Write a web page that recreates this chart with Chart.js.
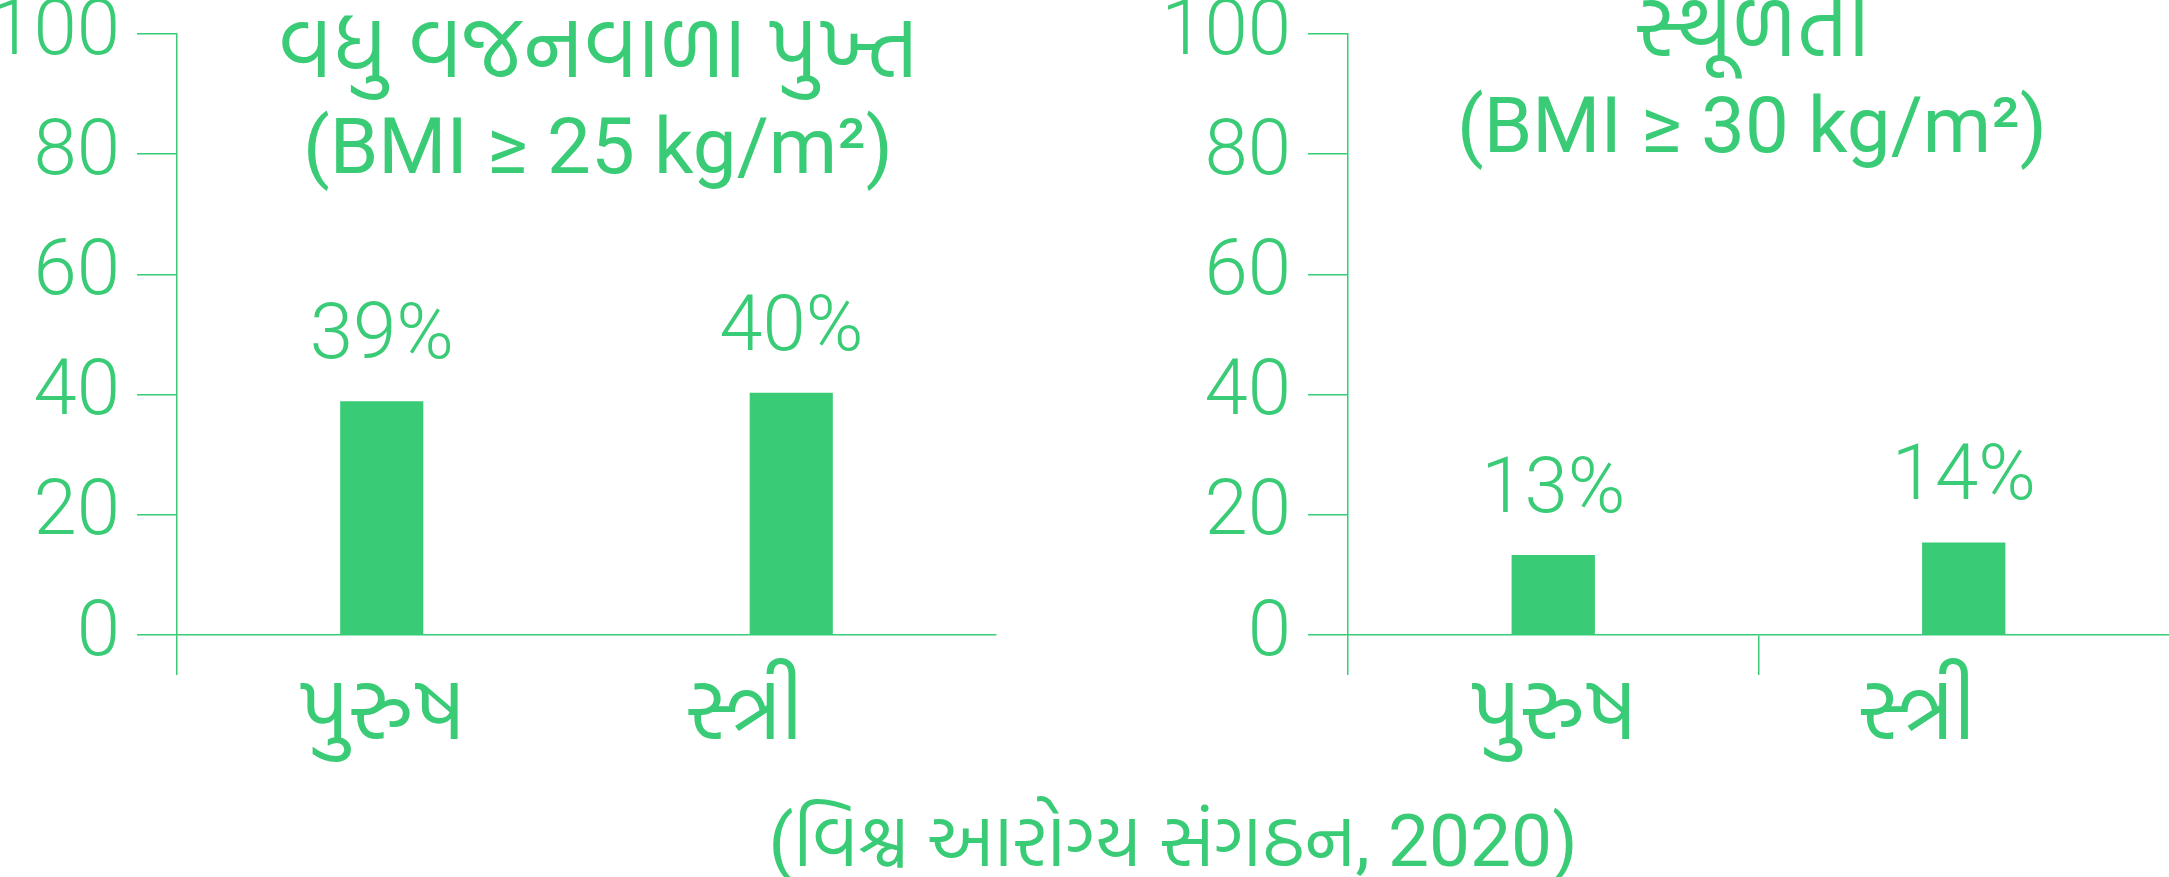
<!DOCTYPE html>
<html>
<head>
<meta charset="utf-8">
<script src="https://cdn.jsdelivr.net/npm/chart.js@4"></script>
<style>
  html, body { margin: 0; padding: 0; background: #fff; }
  #wrap { position: relative; width: 2169px; height: 877px; overflow: hidden; }
  canvas { position: absolute; left: 0; top: 0; }
</style>
</head>
<body>
<div id="wrap">
  <canvas id="overweightChart" width="2169" height="877"></canvas>
  <canvas id="obesityChart" width="2169" height="877"></canvas>
</div>
<script>
const sexes = ['પુરુષ', 'સ્ત્રી'];
const overweightValues = [38.9, 40.3];
const overweightLabels = ['39%', '40%'];
const obesityValues = [13.3, 15.4];
const obesityLabels = ['13%', '14%'];
const yTicks = [0, 20, 40, 60, 80, 100];
const overweightTitle = ['વધુ વજનવાળા પુખ્ત', '(BMI ≥ 25 kg/m²)'];
const obesityTitle = ['સ્થૂળતા', '(BMI ≥ 30 kg/m²)'];
const sourceNote = '(વિશ્વ આરોગ્ય સંગઠન, 2020)';

const GREEN = '#39cb76';
const FONT = 'Roboto, "Hind Vadodara", "Noto Sans", sans-serif';

// the second category label sits a bit left of its bar in the original
const xLabelNudge = [0, -47];

// value labels above bars, category names, titles and the source line
const textPlugin = {
    id: 'textPlugin',
    afterDatasetsDraw(chart, args, opts) {
        const ctx = chart.ctx;
        const xScale = chart.scales.x;
        ctx.save();
        ctx.fillStyle = GREEN;
        ctx.textAlign = 'center';
        ctx.textBaseline = 'alphabetic';

        ctx.font = '300 78px ' + FONT;
        chart.getDatasetMeta(0).data.forEach((bar, i) => {
            ctx.fillText(opts.valueLabels[i], bar.x, bar.y - opts.labelGap);
        });

        ctx.font = '400 86px ' + FONT;
        chart.data.labels.forEach((lab, i) => {
            ctx.fillText(lab, xScale.getPixelForTick(i) + xLabelNudge[i], 739);
        });

        opts.title.forEach((line, i) => {
            ctx.font = '400 ' + (i === 0 ? 86 : 78) + 'px ' + FONT;
            ctx.fillText(line, opts.titleX, opts.titleY[i]);
        });

        if (opts.note) {
            ctx.font = '400 73px ' + FONT;
            ctx.fillText(opts.note, opts.noteX, opts.noteY);
        }
        ctx.restore();
    }
};

function makeChart(id, values, valueLabels, title, cfg) {
    const ctx = document.getElementById(id).getContext('2d');
    return new Chart(ctx, {
        type: 'bar',
        data: {
            labels: sexes,
            datasets: [{
                data: values,
                backgroundColor: GREEN,
                borderWidth: 0,
                barPercentage: 0.203,
                categoryPercentage: 1
            }]
        },
        options: {
            responsive: false,
            animation: false,
            layout: {
                padding: { top: 34, left: 0, right: cfg.padRight, bottom: 0 }
            },
            scales: {
                x: {
                    afterFit: (s) => {
                        s.height = 242;
                        s.paddingLeft = 0;
                        s.paddingRight = 0;
                    },
                    border: { display: true, color: GREEN, width: 1.5 },
                    grid: {
                        drawOnChartArea: false,
                        tickLength: 40,
                        lineWidth: 1.5,
                        color: (c) => cfg.xTickIdx.includes(c.index) ? GREEN : 'rgba(0,0,0,0)'
                    },
                    ticks: { display: false }
                },
                y: {
                    min: 0,
                    max: 100,
                    afterFit: (s) => {
                        s.width = cfg.axisX;
                        s.paddingTop = 0;
                        s.paddingBottom = 0;
                    },
                    afterBuildTicks: (s) => { s.ticks = yTicks.map(v => ({ value: v })); },
                    border: { display: true, color: GREEN, width: 1.5 },
                    grid: {
                        drawOnChartArea: false,
                        tickLength: 40,
                        lineWidth: 1.5,
                        color: GREEN
                    },
                    ticks: {
                        color: GREEN,
                        padding: 17,
                        font: { family: FONT, size: 78, weight: '300' }
                    }
                }
            },
            plugins: {
                legend: { display: false },
                tooltip: { enabled: false },
                textPlugin: {
                    valueLabels: valueLabels,
                    labelGap: 43,
                    title: title,
                    titleX: cfg.titleX,
                    titleY: cfg.titleY,
                    note: cfg.note,
                    noteX: 1173,
                    noteY: 866
                }
            }
        },
        plugins: [textPlugin]
    });
}

Promise.all([
    document.fonts.load('300 78px Roboto'),
    document.fonts.load('400 78px Roboto'),
    document.fonts.load('400 86px "Hind Vadodara"', 'વધુ')
]).finally(() => {
    makeChart('overweightChart', overweightValues, overweightLabels, overweightTitle, {
        axisX: 177,
        padRight: 2169 - 996,
        xTickIdx: [0],
        titleX: 598,
        titleY: [77, 173]
    });
    makeChart('obesityChart', obesityValues, obesityLabels, obesityTitle, {
        axisX: 1348,
        padRight: 0,
        xTickIdx: [0, 1],
        titleX: 1752,
        titleY: [56, 152],
        note: sourceNote
    });
});
</script>
</body>
</html>
